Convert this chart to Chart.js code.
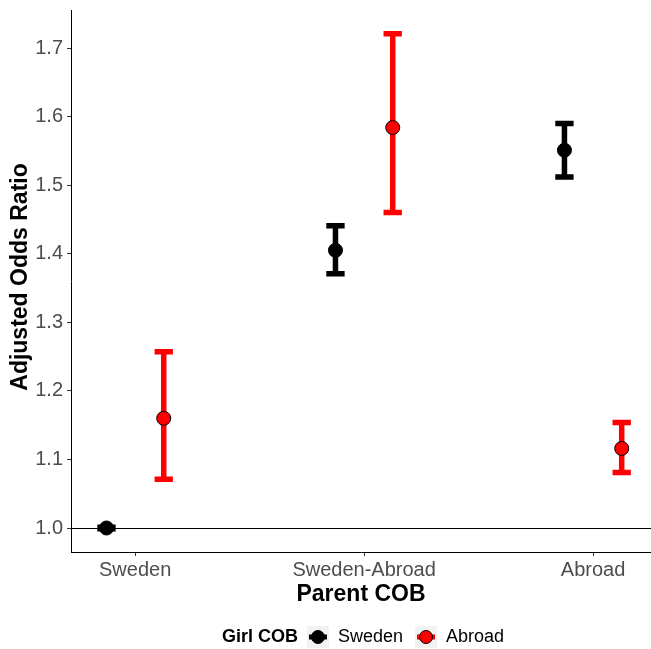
<!DOCTYPE html>
<html><head><meta charset="utf-8">
<script src="https://cdn.jsdelivr.net/npm/chart.js@4"></script>
<style>html,body{margin:0;padding:0;background:#fff;overflow:hidden}#wrap{width:651px;height:649px}canvas{display:block}</style>
</head><body><div id="wrap"><canvas id="c" width="651" height="649"></canvas></div>
<script>
const categories = ['Sweden', 'Sweden-Abroad', 'Abroad'];
const seriesNames = ['Sweden', 'Abroad'];
const seriesColors = ['#000000', '#FF0000'];
const swedenOR = [1.000, 1.405, 1.551];
const swedenLo = [0.999, 1.371, 1.512];
const swedenHi = [1.001, 1.441, 1.590];
const abroadOR = [1.160, 1.584, 1.116];
const abroadLo = [1.071, 1.460, 1.081];
const abroadHi = [1.257, 1.721, 1.154];
const yTicks = [1.0, 1.1, 1.2, 1.3, 1.4, 1.5, 1.6, 1.7];
const refLine = 1.0;

const dodge = [-0.125, 0.125];
const capHalf = 0.04;
const FONT = '"Liberation Sans", Arial, sans-serif';

function makeData(vals, lo, hi, k) {
  return categories.map((c, i) => ({ x: i + dodge[k], y: vals[i], lo: lo[i], hi: hi[i] }));
}

const datasets = [
  { label: seriesNames[0], data: makeData(swedenOR, swedenLo, swedenHi, 0), color: seriesColors[0] },
  { label: seriesNames[1], data: makeData(abroadOR, abroadLo, abroadHi, 1), color: seriesColors[1] }
].map(d => ({
  label: d.label, data: d.data, errColor: d.color,
  backgroundColor: d.color, borderColor: '#000000', borderWidth: 1,
  pointRadius: 7, pointHoverRadius: 7, showLine: false
}));

const errorBars = {
  id: 'errorBars',
  beforeDatasetsDraw(chart) {
    const ctx = chart.ctx, xs = chart.scales.x, ys = chart.scales.y, ca = chart.chartArea;
    ctx.save();
    ctx.strokeStyle = '#000'; ctx.lineWidth = 1.2;
    const yr = Math.round(ys.getPixelForValue(refLine)) + 0.5;
    ctx.beginPath(); ctx.moveTo(ca.left, yr); ctx.lineTo(ca.right, yr); ctx.stroke();
    chart.data.datasets.forEach(ds => {
      ctx.strokeStyle = ds.errColor; ctx.lineWidth = 5.5; ctx.lineCap = 'butt';
      ds.data.forEach(p => {
        const x = xs.getPixelForValue(p.x);
        const x0 = xs.getPixelForValue(p.x - capHalf), x1 = xs.getPixelForValue(p.x + capHalf);
        const yl = ys.getPixelForValue(p.lo), yh = ys.getPixelForValue(p.hi);
        ctx.beginPath();
        ctx.moveTo(x, yh); ctx.lineTo(x, yl);
        ctx.moveTo(x0, yh); ctx.lineTo(x1, yh);
        ctx.moveTo(x0, yl); ctx.lineTo(x1, yl);
        ctx.stroke();
      });
    });
    ctx.restore();
  },
  afterDraw(chart) {
    const ctx = chart.ctx, ca = chart.chartArea;
    ctx.save();
    ctx.fillStyle = '#000';
    ctx.font = 'bold 23px ' + FONT;
    ctx.textAlign = 'center'; ctx.textBaseline = 'middle';
    ctx.fillText('Parent COB', (ca.left + ca.right) / 2, 595);
    ctx.save();
    ctx.translate(21, (ca.top + ca.bottom) / 2 - 4);
    ctx.rotate(-Math.PI / 2);
    ctx.fillText('Adjusted Odds Ratio', 0, 0);
    ctx.restore();
    // legend
    const ly = 637;
    const titleFont = 'bold 18px ' + FONT, labFont = '18px ' + FONT;
    ctx.font = titleFont; const tw = ctx.measureText('Girl COB').width;
    ctx.font = labFont;
    const lw = chart.data.datasets.map(d => ctx.measureText(d.label).width);
    const key = 22, g1 = 9, g2 = 9, g3 = 12;
    let total = tw + g1;
    lw.forEach((w, i) => { total += key + g2 + w + (i < lw.length - 1 ? g3 : 0); });
    let x = (ca.left + ca.right) / 2 - total / 2 + 2;
    ctx.textAlign = 'left';
    ctx.font = titleFont; ctx.fillText('Girl COB', x, ly); x += tw + g1;
    chart.data.datasets.forEach((d, i) => {
      ctx.fillStyle = '#f2f2f2'; ctx.fillRect(x, ly - key / 2, key, key);
      ctx.strokeStyle = d.errColor; ctx.lineWidth = 5;
      ctx.beginPath(); ctx.moveTo(x + 2, ly); ctx.lineTo(x + key - 2, ly); ctx.stroke();
      ctx.beginPath(); ctx.arc(x + key / 2, ly, 6.5, 0, Math.PI * 2);
      ctx.fillStyle = d.backgroundColor; ctx.fill();
      ctx.lineWidth = 1; ctx.strokeStyle = '#000'; ctx.stroke();
      x += key + g2;
      ctx.fillStyle = '#000'; ctx.font = labFont; ctx.fillText(d.label, x, ly);
      x += lw[i] + g3;
    });
    ctx.restore();
  }
};

new Chart(document.getElementById('c'), {
  type: 'scatter',
  data: { datasets },
  plugins: [errorBars],
  options: {
    responsive: false, animation: false,
    layout: { autoPadding: false, padding: { top: 10, right: 0, left: 0, bottom: 0 } },
    plugins: { legend: { display: false }, tooltip: { enabled: false } },
    scales: {
      x: {
        type: 'linear', min: -0.28, max: 2.253,
        afterBuildTicks: s => { s.ticks = categories.map((c, i) => ({ value: i })); },
        afterFit: s => { s.height = 97; s.paddingLeft = 0; s.paddingRight = 0; },
        ticks: { color: '#4d4d4d', font: { size: 20, family: FONT }, padding: 2, maxRotation: 0,
                 callback: v => categories[Math.round(v)] },
        grid: { display: true, drawOnChartArea: false, drawTicks: true, tickLength: 4, tickColor: '#333' },
        border: { display: true, color: '#000', width: 1 }
      },
      y: {
        min: 0.965, max: 1.7555,
        afterBuildTicks: s => { s.ticks = yTicks.map(v => ({ value: v })); },
        afterFit: s => { s.width = 71; s.paddingTop = 0; s.paddingBottom = 0; },
        ticks: { color: '#4d4d4d', font: { size: 20, family: FONT }, padding: 4,
                 callback: v => Number(v).toFixed(1) },
        grid: { display: true, drawOnChartArea: false, drawTicks: true, tickLength: 4, tickColor: '#333' },
        border: { display: true, color: '#000', width: 1 }
      }
    }
  }
});
</script></body></html>
